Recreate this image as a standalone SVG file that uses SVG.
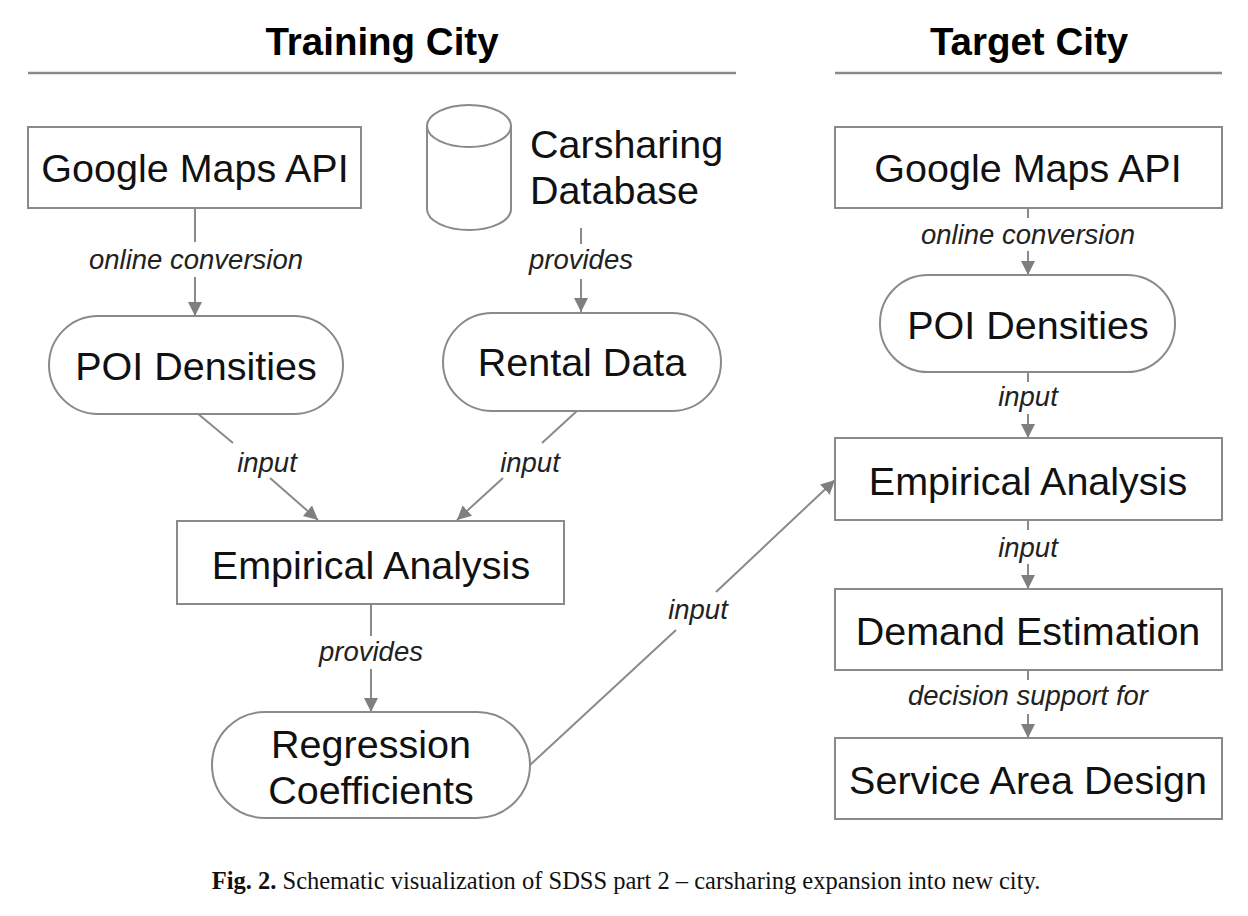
<svg xmlns="http://www.w3.org/2000/svg" width="1248" height="916" viewBox="0 0 1248 916">
<defs>
<marker id="ah" viewBox="0 0 10 10" refX="10" refY="5" markerWidth="14" markerHeight="14" markerUnits="userSpaceOnUse" orient="auto">
<path d="M0,0 L10,5 L0,10 Z" fill="#7f7f7f"/>
</marker>
<style>
.box{fill:#fff;stroke:#8a8a8a;stroke-width:2}
.t{font-family:"Liberation Sans",Arial,sans-serif;font-size:39.5px;fill:#111;text-anchor:middle}
.h{font-family:"Liberation Sans",Arial,sans-serif;font-size:38.5px;font-weight:bold;fill:#000;text-anchor:middle}
.l{font-family:"Liberation Sans",Arial,sans-serif;font-size:27.5px;font-style:italic;fill:#222;text-anchor:middle}
.c{stroke:#8a8a8a;stroke-width:2;fill:none}
.a{stroke:#8a8a8a;stroke-width:2;fill:none;marker-end:url(#ah)}
.rule{stroke:#8a8a8a;stroke-width:2.5}
.cap{font-family:"Liberation Serif","Times New Roman",serif;font-size:24.5px;fill:#111;text-anchor:middle}
</style>
</defs>
<rect width="1248" height="916" fill="#fff"/>

<g id="headers">
<text class="h" x="382" y="55">Training City</text>
<line class="rule" x1="28" y1="73" x2="736" y2="73"/>
<text class="h" x="1029" y="55">Target City</text>
<line class="rule" x1="835" y1="73" x2="1222" y2="73"/>
</g>

<g id="connectors">
<line class="c" x1="195" y1="208" x2="195" y2="242"/>
<line class="a" x1="195" y1="277" x2="195" y2="316"/>
<line class="c" x1="581" y1="228" x2="581" y2="244"/>
<line class="a" x1="581" y1="279" x2="581" y2="312"/>
<line class="c" x1="197" y1="413" x2="233" y2="443"/>
<line class="a" x1="270" y1="478" x2="318" y2="520"/>
<line class="c" x1="578" y1="410" x2="542" y2="443"/>
<line class="a" x1="503" y1="478" x2="457" y2="520"/>
<line class="c" x1="371" y1="604" x2="371" y2="636"/>
<line class="a" x1="371" y1="669" x2="371" y2="712"/>
<line class="c" x1="530" y1="765" x2="676" y2="630"/>
<line class="a" x1="716" y1="592" x2="835" y2="480"/>
<line class="c" x1="1028" y1="208" x2="1028" y2="218"/>
<line class="a" x1="1028" y1="251" x2="1028" y2="275"/>
<line class="c" x1="1028" y1="372" x2="1028" y2="382"/>
<line class="a" x1="1028" y1="414" x2="1028" y2="438"/>
<line class="c" x1="1028" y1="520" x2="1028" y2="530"/>
<line class="a" x1="1028" y1="564" x2="1028" y2="589"/>
<line class="c" x1="1028" y1="670" x2="1028" y2="680"/>
<line class="a" x1="1028" y1="714" x2="1028" y2="738"/>
<text class="l" x="196" y="269">online conversion</text>
<text class="l" x="581" y="269">provides</text>
<text class="l" x="267" y="472">input</text>
<text class="l" x="530" y="472">input</text>
<text class="l" x="371" y="661">provides</text>
<text class="l" x="698" y="619">input</text>
<text class="l" x="1028" y="244">online conversion</text>
<text class="l" x="1028" y="406">input</text>
<text class="l" x="1028" y="557">input</text>
<text class="l" x="1028" y="705">decision support for</text>
</g>

<g id="gmaps-train">
<rect class="box" x="28" y="127" width="333" height="81"/>
<text class="t" x="195" y="182">Google Maps API</text>
</g>
<g id="db">
<path class="box" d="M427,126 L427,209 A42,21 0 0 0 511,209 L511,126"/>
<ellipse class="box" cx="469" cy="126" rx="42" ry="21"/>
<text class="t" x="530" y="158" style="text-anchor:start">Carsharing</text>
<text class="t" x="530" y="204" style="text-anchor:start">Database</text>
</g>
<g id="poi-train">
<rect class="box" x="49" y="316" width="294" height="98" rx="49"/>
<text class="t" x="196" y="380">POI Densities</text>
</g>
<g id="rental">
<rect class="box" x="443" y="313" width="278" height="98" rx="49"/>
<text class="t" x="582" y="376">Rental Data</text>
</g>
<g id="emp-train">
<rect class="box" x="177" y="521" width="387" height="83"/>
<text class="t" x="371" y="579">Empirical Analysis</text>
</g>
<g id="regression">
<rect class="box" x="212" y="712" width="318" height="106" rx="53"/>
<text class="t" x="371" y="758">Regression</text>
<text class="t" x="371" y="804">Coefficients</text>
</g>

<g id="gmaps-target">
<rect class="box" x="835" y="127" width="387" height="81"/>
<text class="t" x="1028" y="182">Google Maps API</text>
</g>
<g id="poi-target">
<rect class="box" x="880" y="275" width="295" height="97" rx="48"/>
<text class="t" x="1028" y="339">POI Densities</text>
</g>
<g id="emp-target">
<rect class="box" x="835" y="438" width="387" height="82"/>
<text class="t" x="1028" y="495">Empirical Analysis</text>
</g>
<g id="demand">
<rect class="box" x="835" y="589" width="387" height="81"/>
<text class="t" x="1028" y="645">Demand Estimation</text>
</g>
<g id="service">
<rect class="box" x="835" y="738" width="387" height="81"/>
<text class="t" x="1028" y="794">Service Area Design</text>
</g>

<g id="caption">
<text class="cap" x="626" y="889"><tspan font-weight="bold">Fig. 2.</tspan> Schematic visualization of SDSS part 2 – carsharing expansion into new city.</text>
</g>
</svg>
